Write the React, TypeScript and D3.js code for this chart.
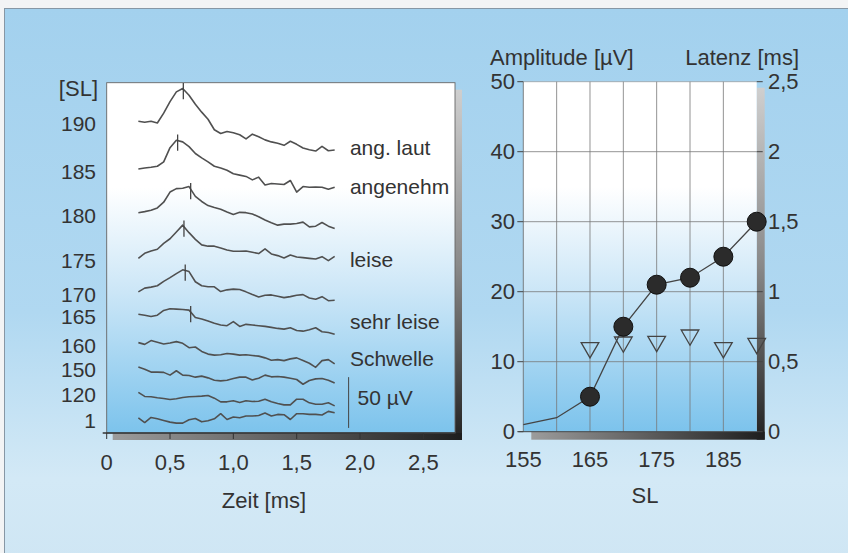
import React from 'react'
import * as d3 from 'd3'

// Abtastzeitpunkte der Kurven [ms]
const times = [0.25, 0.3, 0.35, 0.4, 0.45, 0.5, 0.55, 0.6, 0.65, 0.7, 0.75, 0.8, 0.85, 0.9, 0.95, 1.0,
    1.05, 1.1, 1.15, 1.2, 1.25, 1.3, 1.35, 1.4, 1.45, 1.5, 1.55, 1.6, 1.65, 1.7, 1.75, 1.8]

const slLevels = ['190', '185', '180', '175', '170', '165', '160', '150', '120', '1']
// vertikale Lage jeder Kurve [µV]
const traceOffsets = [307, 260, 217, 172, 139, 117, 89, 65, 40, 15]
// Latenz der markierten Spitze [ms]
const peakTimes = [0.605, 0.56, 0.663, 0.61, 0.62, 0.663, null, null, null, null]

// Kurvenverlauf relativ zum Startwert [µV]
const traces = [
    [0, -1, 0, -1.7, 8, 19.3, 29, 32.3, 25.7, 16.7, 9, 2, -8.3, -12, -10, -11.3,
        -13.3, -17.3, -12.7, -15.3, -18.3, -20.3, -21.7, -23.7, -19.7, -22.7, -26.3, -28, -29.3, -24.7, -29, -28.3],
    [0, 1, 1.7, 2.7, 7, 21, 28.3, 26.7, 22, 15.3, 11, 7, 2.7, 1, -1.3, -4.7,
        -6, -7.3, -10.7, -8, -15.7, -14.3, -14.7, -15.3, -11.3, -22.7, -17.3, -18, -17.7, -18, -20, -18],
    [0, 1, 2.3, 4.7, 10.3, 20.3, 23.7, 24, 25.7, 16, 11, 7, 5, 3.3, 0.7, -1.7,
        0.3, 0, -1.3, -4, -7.3, -10, -12.3, -11.3, -11.3, -10.7, -9.3, -14, -13.3, -9.7, -13.3, -15.7],
    [0, 5, 7.3, 9, 14.7, 19.3, 26, 32.7, 25.3, 18.7, 13.3, 12, 12, 10.3, 8.3, 7,
        7, 7.3, 6, 4.7, 9.3, 4.3, 2.7, 0.3, 3.3, 1.3, 0.7, 0, -0.7, 1.7, -2.3, 2],
    [0, 3.7, 4.7, 6, 10.3, 14, 18, 21.7, 20, 10, 6, 5, 5, 0.3, 2, 2.7,
        2.3, 0, -2.7, -5, -3.3, -3, -4.3, -5.7, -4.7, -3.3, -2.7, -6, -7.3, -4.7, -8.7, -8.3],
    [0, -1, -2.3, -1, 3.7, 5.3, 5, 4.7, 4, -3.3, -4.7, -6.7, -9, -10.7, -11.3, -7.3,
        -12, -10, -10.7, -11.3, -12, -13, -14, -14.7, -13.3, -16, -16.7, -15.3, -13.3, -17.3, -18, -19.7],
    [0, -1.7, 2, 0.3, -1.3, -0.3, 1, -0.7, -5, -4.3, -8.7, -11.3, -12.3, -12, -10.7, -11.3,
        -12.3, -12, -12.7, -13.3, -15, -17.3, -16.7, -17.7, -16, -15, -17.7, -20.3, -24.3, -17.7, -16.7, -21],
    [0, -2.3, -5, -5, -5.3, -8, -3.7, -8, -8.3, -10, -9, -10.7, -13, -13.7, -13, -11.3,
        -10, -10, -12.7, -11, -8, -9.7, -9.3, -10, -11, -12.3, -17, -13.3, -11.7, -11.3, -13, -15.7],
    [0, -4, -4.3, -5.3, -6, -7, -6.3, -5, -4.3, -4, -3.7, -3, -5.7, -9.3, -9.3, -8.3,
        -10, -8.3, -9, -8.7, -6.7, -9.3, -11, -12.3, -12.3, -6.7, -6.7, -10.3, -11.7, -11.7, -10.3, -13.3],
    [0, -4.7, 0.3, -1, -2.7, -4.3, -5.3, -5.3, -2, -0.7, -4, -3, -1, 4, -1.7, 0.7,
        0, 1.7, 1.7, 2.3, 4.7, 1.7, 3.3, 3, -1.7, 4, 4, 3.3, 3.3, 2.7, 6.3, 5],
]

const stateLabels = ['ang. laut', 'angenehm', 'leise', 'sehr leise', 'Schwelle']
const stateLevels = [281, 243, 171, 110, 73] // µV
const timeTicks = [0, 0.5, 1.0, 1.5, 2.0, 2.5]

// rechtes Diagramm
const slValues = [155, 160, 165, 170, 175, 180, 185, 190]
const amplitude = [1, 2, 5, 15, 21, 22, 25, 30]
const markerFrom = 165
const latencySL = [165, 170, 175, 180, 185, 190]
const latency = [0.6, 0.64, 0.645, 0.69, 0.6, 0.63]
const ampTicks = [0, 10, 20, 30, 40, 50]
const latTicks = [0, 0.5, 1, 1.5, 2, 2.5]
const slTicks = [155, 165, 175, 185]
const slGrid = [160, 165, 170, 175, 180, 185]

const FONT = '"Liberation Sans", Arial, Helvetica, sans-serif'
const TXT = '#333'

const de = (v: number | string) => String(v).replace('.', ',')

export default function App() {
    const W = 848, H = 553

    // linkes Feld
    const L = { x0: 106.7, x1: 455, y0: 82.7, y1: 433 }
    const xT = d3.scaleLinear().domain([0, 2.75]).range([L.x0, L.x1])
    const yT = d3.scaleLinear().domain([0, 345]).range([L.y1, L.y0])

    // rechtes Feld
    const R = { x0: 523.3, x1: 756.7, y0: 81.7, y1: 431.7 }
    const xS = d3.scaleLinear().domain([155, 190]).range([R.x0, R.x1])
    const yA = d3.scaleLinear().domain([0, 50]).range([R.y1, R.y0])
    const yL = d3.scaleLinear().domain([0, 2.5]).range([R.y1, R.y0])

    const traceLine = (off: number) => d3.line<number>()
        .x((d, i) => xT(times[i]))
        .y((d) => yT(off + d))

    const ampLine = d3.line<number>()
        .x((d, i) => xS(slValues[i]))
        .y((d) => yA(d))

    const tri = d3.symbol().type(d3.symbolTriangle).size(135)()

    return (
        <svg width={W} height={H} style={{ display: 'block' }} fontFamily={FONT}>
            <style>{'body{margin:0}'}</style>
            <defs>
                <linearGradient id="bg" x1="0" y1="0" x2="0" y2="1">
                    <stop offset="0" stopColor="#a3d1ee" />
                    <stop offset="0.55" stopColor="#b0d8f1" />
                    <stop offset="0.85" stopColor="#d3e9f6" />
                    <stop offset="1" stopColor="#cfe6f4" />
                </linearGradient>
                <linearGradient id="panel" x1="0" y1="0" x2="0" y2="1">
                    <stop offset="0" stopColor="#ffffff" />
                    <stop offset="0.3" stopColor="#ffffff" />
                    <stop offset="0.6" stopColor="#cbe6f7" />
                    <stop offset="1" stopColor="#7cc3ec" />
                </linearGradient>
                <linearGradient id="shV" x1="0" y1="0" x2="0" y2="1">
                    <stop offset="0" stopColor="#cfcfcf" />
                    <stop offset="0.5" stopColor="#8a8a8a" />
                    <stop offset="1" stopColor="#222" />
                </linearGradient>
                <linearGradient id="shH" x1="0" y1="0" x2="1" y2="0">
                    <stop offset="0" stopColor="#9c9c9c" />
                    <stop offset="1" stopColor="#1e1e1e" />
                </linearGradient>
            </defs>

            {/* Hintergrund */}
            <rect x={0} y={0} width={W} height={H} fill="#f3f4f5" />
            <rect x={4.5} y={8.5} width={W} height={H} fill="url(#bg)" stroke="#8797a5" strokeWidth={1} />

            {/* ---------- linkes Diagramm ---------- */}
            <rect x={L.x1} y={L.y0 + 7} width={7} height={L.y1 - L.y0} fill="url(#shV)" />
            <rect x={L.x0 + 6} y={L.y1} width={L.x1 - L.x0 + 1} height={7} fill="url(#shH)" />
            <rect x={L.x0} y={L.y0} width={L.x1 - L.x0} height={L.y1 - L.y0} fill="url(#panel)" stroke="#666" strokeWidth={0.9} />
            <line x1={L.x0 - 4} x2={L.x1} y1={L.y1} y2={L.y1} stroke="#333" strokeWidth={1.6} />
            {timeTicks.map((t) => (
                <g key={'tt' + t}>
                    <line x1={xT(t)} x2={xT(t)} y1={L.y1} y2={L.y1 + 6} stroke="#333" strokeWidth={1} />
                    <text x={xT(t)} y={462} fontSize={22} fill={TXT} textAnchor="middle" dominantBaseline="central">
                        {t === 0 ? '0' : de(t.toFixed(1))}
                    </text>
                </g>
            ))}
            <text x={264} y={500} fontSize={22} fill={TXT} textAnchor="middle" dominantBaseline="central">Zeit [ms]</text>
            <text x={98} y={88} fontSize={22} fill={TXT} textAnchor="end" dominantBaseline="central">[SL]</text>

            {traces.map((tr, i) => (
                <g key={'tr' + i}>
                    <path d={traceLine(traceOffsets[i])(tr) || ''} fill="none" stroke="#505050" strokeWidth={1.6} strokeLinejoin="round" />
                    <text x={96} y={yT(traceOffsets[i]) + 2.5} fontSize={21} fill={TXT} textAnchor="end" dominantBaseline="central">
                        {slLevels[i]}
                    </text>
                </g>
            ))}
            {peakTimes.map((pt, i) => {
                if (pt == null) return null
                const v = d3.scaleLinear().domain(times).range(traces[i])(pt)
                const x = xT(pt)
                return <line key={'pk' + i} x1={x} x2={x} y1={yT(traceOffsets[i] + v + 6)} y2={yT(traceOffsets[i] + v - 10)}
                    stroke="#444" strokeWidth={1.3} />
            })}
            {stateLabels.map((s, i) => (
                <text key={s} x={xT(1.92)} y={yT(stateLevels[i])} fontSize={21} fill={TXT} dominantBaseline="central">{s}</text>
            ))}
            {/* Maßstab 50 µV */}
            <line x1={xT(1.91)} x2={xT(1.91)} y1={yT(5)} y2={yT(55)} stroke="#444" strokeWidth={1} />
            <text x={xT(1.98)} y={yT(35)} fontSize={21} fill={TXT} dominantBaseline="central">50 µV</text>

            {/* ---------- rechtes Diagramm ---------- */}
            <rect x={R.x1} y={R.y0 + 6} width={8} height={R.y1 - R.y0 + 2} fill="url(#shV)" />
            <rect x={R.x0 + 8} y={R.y1} width={R.x1 - R.x0} height={8} fill="url(#shH)" />
            <rect x={R.x0} y={R.y0} width={R.x1 - R.x0} height={R.y1 - R.y0} fill="url(#panel)" />
            {ampTicks.slice(1, -1).map((v) => (
                <line key={'ga' + v} x1={R.x0} x2={R.x1} y1={yA(v)} y2={yA(v)} stroke="#777" strokeWidth={0.8} />
            ))}
            {slGrid.map((v) => (
                <line key={'gs' + v} x1={xS(v)} x2={xS(v)} y1={R.y0} y2={R.y1} stroke="#777" strokeWidth={0.8} />
            ))}
            <line x1={R.x0} x2={R.x0} y1={R.y0} y2={R.y1} stroke="#666" strokeWidth={0.8} />
            <line x1={R.x0} x2={R.x1} y1={R.y0} y2={R.y0} stroke="#888" strokeWidth={0.6} />
            <line x1={R.x0 - 5} x2={R.x1} y1={R.y1} y2={R.y1} stroke="#444" strokeWidth={1} />
            {ampTicks.map((v) => (
                <g key={'ta' + v}>
                    <line x1={R.x0 - 6} x2={R.x0} y1={yA(v)} y2={yA(v)} stroke="#444" strokeWidth={1} />
                    <text x={515} y={yA(v)} fontSize={22} fill={TXT} textAnchor="end" dominantBaseline="central">{v}</text>
                </g>
            ))}
            {latTicks.map((v) => (
                <g key={'tl' + v}>
                    <line x1={R.x1} x2={R.x1 + 6} y1={yL(v)} y2={yL(v)} stroke="#444" strokeWidth={1} />
                    <text x={768} y={yL(v)} fontSize={22} fill={TXT} dominantBaseline="central">{de(v)}</text>
                </g>
            ))}
            {slTicks.map((v) => (
                <text key={'ts' + v} x={xS(v)} y={459} fontSize={22} fill={TXT} textAnchor="middle" dominantBaseline="central">{v}</text>
            ))}
            <text x={645} y={495} fontSize={22} fill={TXT} textAnchor="middle" dominantBaseline="central">SL</text>
            <text x={490} y={57} fontSize={22} fill={TXT} dominantBaseline="central">Amplitude [µV]</text>
            <text x={799} y={57} fontSize={22} fill={TXT} textAnchor="end" dominantBaseline="central">Latenz [ms]</text>

            <path d={ampLine(amplitude) || ''} fill="none" stroke="#444" strokeWidth={1.3} />
            {latencySL.map((s, i) => (
                <path key={'lt' + s} d={tri || ''} transform={`translate(${xS(s)},${yL(latency[i])}) rotate(180)`}
                    fill="none" stroke="#444" strokeWidth={1.3} />
            ))}
            {slValues.map((s, i) => s >= markerFrom && (
                <circle key={'am' + s} cx={xS(s)} cy={yA(amplitude[i])} r={9.5} fill="#2b2b2b" stroke="#111" strokeWidth={1} />
            ))}
        </svg>
    )
}
